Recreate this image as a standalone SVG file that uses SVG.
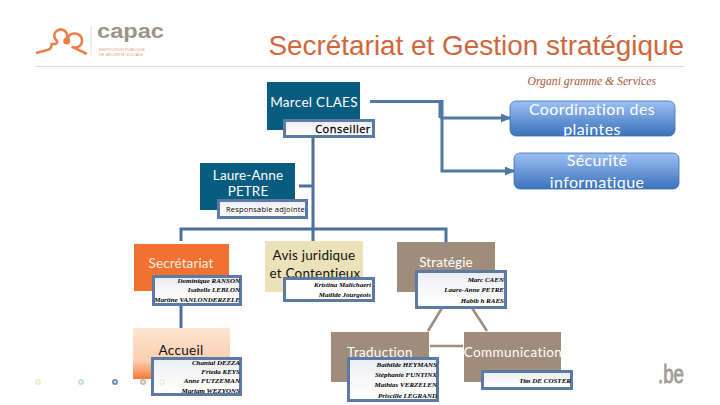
<svg xmlns="http://www.w3.org/2000/svg" width="720" height="405" viewBox="0 0 720 405">
<style>
.sq{font-family:Lato,"Open Sans",sans-serif}
.lb{font-size:13.500px;text-anchor:middle;fill:#fff;letter-spacing:.1px}
.big{font-size:16px;text-anchor:middle;fill:#fff;letter-spacing:.4px}
.det{stroke:#5b7ba6;stroke-width:3}
.d{font-family:"Liberation Serif",serif;font-size:7px;font-style:italic;font-weight:bold;text-anchor:end;fill:#000}
.blu{fill:none;stroke:#4f78a8;stroke-width:3}
.nav{fill:none;stroke:#4d6f9b;stroke-width:3}
.tan{fill:none;stroke:#a08c7b;stroke-width:2.500}
.dot{fill:#fff;stroke-width:2}
</style>
<defs>
<linearGradient id="bl" x1="0" y1="0" x2="0" y2="1"><stop offset="0" stop-color="#9cc0f4"/><stop offset="1" stop-color="#3b72bb"/></linearGradient>
<linearGradient id="ac" x1="0" y1="0" x2="0" y2="1"><stop offset="0" stop-color="#fde4d2"/><stop offset=".65" stop-color="#fbcfae"/><stop offset="1" stop-color="#f47a37"/></linearGradient>
<linearGradient id="dg" x1="0" y1="0" x2="0" y2="1"><stop offset="0" stop-color="#e9ecf2"/><stop offset=".5" stop-color="#f8f8fa"/><stop offset="1" stop-color="#fff"/></linearGradient>
<marker id="ah" markerWidth="3.400" markerHeight="3" refX="3" refY="1.500" orient="auto"><path d="M0 0L3.400 1.500L0 3Z" fill="#4f78a8"/></marker>
<clipPath id="c1"><rect x="510" y="101" width="165" height="35"/></clipPath>
<clipPath id="c2"><rect x="514" y="153" width="165" height="36"/></clipPath>
</defs>

<g id="logo">
<path d="M37 52.700L47 50Q51.700 49.300 51.700 44L55 44Q58 43 57 41Q52 36 56 31.500Q60 27.500 65 31Q69 35 66 41" fill="none" stroke="#ef7d45" stroke-width="2.500" stroke-linecap="round"/>
<path d="M68 40Q68 33 75 33.500Q82 34 82 40.700Q82 47 75 47.500Q73 47.500 71.700 46.700L86 53.500" fill="none" stroke="#ef7d45" stroke-width="2.500" stroke-linecap="round"/>
<circle cx="66.700" cy="41" r="3.500" fill="#ef7d45"/>
<path d="M91 26V55" stroke="#ddd" stroke-width="1"/>
<text x="97" y="38" font-family="'Liberation Sans',sans-serif" font-size="21" font-weight="bold" fill="#9d9488" textLength="67" lengthAdjust="spacingAndGlyphs">capac</text>
<text x="99" y="51" font-family="'Liberation Sans',sans-serif" font-size="3.500" fill="#e59a73" textLength="46" lengthAdjust="spacingAndGlyphs">INSTITUTION PUBLIQUE</text>
<text x="99" y="55.500" font-family="'Liberation Sans',sans-serif" font-size="3.500" fill="#e59a73" textLength="44" lengthAdjust="spacingAndGlyphs">DE SÉCURITÉ SOCIALE</text>
</g>
<text id="title" x="684" y="55" text-anchor="end" font-family="'Liberation Sans',sans-serif" font-size="27.900" fill="#d0663c">Secrétariat et Gestion stratégique</text>
<path id="rule" d="M36 66.500H684" stroke="#f2d3c4" stroke-width="1"/>
<text id="subtitle" x="656" y="85" text-anchor="end" font-family="'Liberation Serif',serif" font-size="11.700" font-style="italic" fill="#a5573c">Organi gramme &amp; Services</text>

<g id="connectors">
<path class="blu" d="M370 101.500H442V118H510" marker-end="url(#ah)"/>
<path class="blu" d="M440 101.500V118M442 118V171H514" marker-end="url(#ah)"/>
<path class="nav" d="M313 137V241M299 186H313M181 241V229H446V242M181 305V328"/>
<path class="tan" d="M442 308L428 331M472 308L487 331M430 346H463"/>
</g>

<g id="marcel"><rect x="267" y="82" width="93" height="48" fill="#075c80"/><text class="sq lb" x="314" y="107" style="letter-spacing:.3px">Marcel CLAES</text></g>
<g id="conseiller"><rect class="det" x="284.500" y="120.500" width="89" height="16" style="fill:url(#dg)"/><text x="343" y="133" text-anchor="middle" font-family="'Open Sans',sans-serif" font-size="11" fill="#000" stroke="#000" stroke-width=".3" letter-spacing=".5">Conseiller</text></g>

<g id="coordination"><rect x="510" y="101" width="165" height="35" rx="6" fill="url(#bl)" stroke="#3d6fb0" stroke-width=".8"/><g clip-path="url(#c1)"><text class="sq big" x="592" y="115">Coordination des</text><text class="sq big" x="592" y="135">plaintes</text></g></g>
<g id="securite"><rect x="514" y="153" width="165" height="36" rx="6" fill="url(#bl)" stroke="#3d6fb0" stroke-width=".8"/><g clip-path="url(#c2)"><text class="sq big" x="597" y="166">Sécurité</text><text class="sq big" x="597" y="188">informatique</text></g></g>

<g id="laure"><rect x="200" y="163" width="95" height="47" fill="#075c80"/><text class="sq lb" x="248" y="180">Laure-Anne</text><text class="sq lb" x="248" y="196">PETRE</text>
<rect class="det" x="218.500" y="200.500" width="88" height="17" style="fill:url(#dg)"/><text x="305" y="212" font-family="'Open Sans',sans-serif" font-size="7.500" text-anchor="end" fill="#000" letter-spacing=".2">Responsable adjointe</text></g>

<g id="secretariat"><rect x="134" y="244" width="95" height="47" fill="#f27130"/><text class="sq lb" x="181" y="268" fill-opacity=".9">Secrétariat</text>
<rect class="det" x="153.500" y="276.500" width="87" height="28" style="fill:url(#dg)"/><text class="d" x="240" y="283">Dominique RANSON</text><text class="d" x="240" y="292">Isabelle LEBLON</text><text class="d" x="240" y="302">Martine VANLONDERZELE</text></g>

<g id="avis"><rect x="265" y="241" width="98" height="51" fill="#ece2b8"/><text class="sq lb" x="314" y="260" style="fill:#111;letter-spacing:.2px">Avis juridique</text><text class="sq lb" x="315" y="278" style="fill:#111;letter-spacing:.2px">et Contentieux</text>
<rect class="det" x="284.500" y="278.500" width="89" height="22" fill="#fff"/><text class="d" x="371" y="287">Kristina Malichaert</text><text class="d" x="371" y="297">Matilde Jourgeois</text></g>

<g id="strategie"><rect x="397" y="242" width="98" height="50" fill="#a08c7b"/><text class="sq lb" x="446" y="267">Stratégie</text>
<rect class="det" x="416.500" y="271.500" width="89" height="36" style="fill:url(#dg)"/><text class="d" x="504" y="282">Marc CAEN</text><text class="d" x="504" y="292">Laure-Anne PETRE</text><text class="d" x="504" y="303">Habib h RAES</text></g>

<g id="accueil"><rect x="133" y="328" width="97" height="51" fill="url(#ac)"/><text class="sq lb" x="181" y="355" style="fill:#111;letter-spacing:.3px">Accueil</text>
<rect class="det" x="152.500" y="358.500" width="88" height="36" style="fill:url(#dg)"/><text class="d" x="240" y="365">Chantal DEZZA</text><text class="d" x="240" y="374">Frieda KEYS</text><text class="d" x="240" y="383">Anne FUTZEMAN</text><text class="d" x="240" y="393">Mariam WEZYONS</text></g>

<g id="traduction"><rect x="331" y="332" width="98" height="50" fill="#a08c7b"/><text class="sq lb" x="380" y="357" style="letter-spacing:.3px">Traduction</text>
<rect class="det" x="348.500" y="358.500" width="89" height="42" style="fill:url(#dg)"/><text class="d" x="437" y="367">Bathilde HEYMANS</text><text class="d" x="437" y="377">Stéphanie FUNTINX</text><text class="d" x="437" y="387">Mathias VERZELEN</text><text class="d" x="437" y="398">Priscille LEGRAND</text></g>

<g id="communication"><rect x="464" y="332" width="97" height="50" fill="#a08c7b"/><text class="sq lb" x="513" y="357" style="letter-spacing:.4px">Communication</text>
<rect class="det" x="482.500" y="371.500" width="89" height="17" style="fill:url(#dg)"/><text class="d" x="571" y="383">Tim DE COSTER</text></g>

<g id="dots">
<circle class="dot" cx="38" cy="382" r="2" stroke="#f1ecc8"/>
<circle class="dot" cx="81" cy="382" r="2" stroke="#c3dfe5"/>
<circle class="dot" cx="115" cy="382" r="2" stroke="#6f94ad"/>
<circle class="dot" cx="143" cy="382" r="2" stroke="#c9bcae"/>
<circle class="dot" cx="162" cy="382" r="2" stroke="#f4ece4"/>
</g>
<text id="be" x="658" y="383" font-family="'Liberation Sans',sans-serif" font-size="25" fill="#a39c93" stroke="#a39c93" stroke-width=".8" textLength="26" lengthAdjust="spacingAndGlyphs">.be</text>
</svg>
